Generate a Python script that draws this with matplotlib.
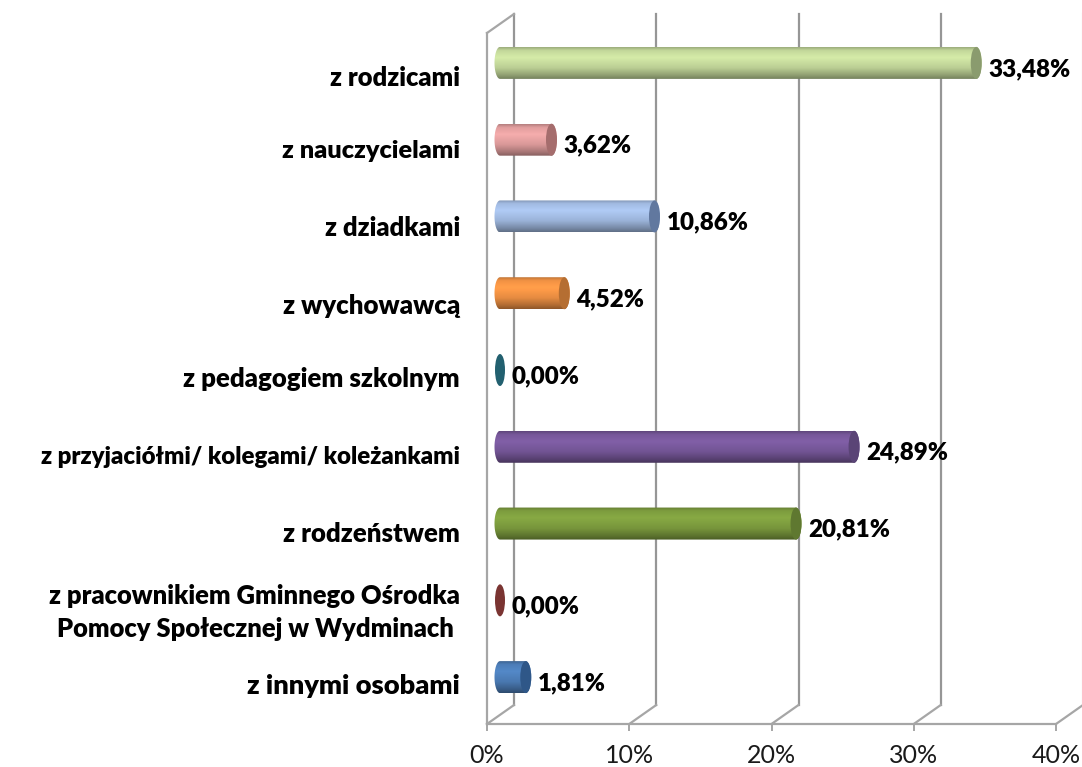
"""
plot.py

Horizontal 3D-look cylinder bar chart, saved as out.png.
"""

import numpy as np
import matplotlib
matplotlib.use('Agg')
import matplotlib.pyplot as plt
from matplotlib.colors import to_rgb
from matplotlib.patches import Ellipse, PathPatch
from matplotlib.path import Path
from matplotlib.transforms import Affine2D, blended_transform_factory

# Data, top to bottom as in the chart
categories = [
    'z rodzicami',
    'z nauczycielami',
    'z dziadkami',
    'z wychowawcą',
    'z pedagogiem szkolnym',
    'z przyjaciółmi/ kolegami/ koleżankami',
    'z rodzeństwem',
    'z pracownikiem Gminnego Ośrodka\nPomocy Społecznej w Wydminach ',
    'z innymi osobami',
]
values = [33.48, 3.62, 10.86, 4.52, 0.00, 24.89, 20.81, 0.00, 1.81]
value_labels = ['33,48%', '3,62%', '10,86%', '4,52%', '0,00%', '24,89%', '20,81%', '0,00%', '1,81%']
x_ticks = [0, 10, 20, 30, 40]
x_tick_labels = ['0%', '10%', '20%', '30%', '40%']

# Styles
bar_colors = ['#c9de9f', '#e8a3a3', '#a6c0e8', '#f79646', '#31859c', '#7a5a9e', '#80a040', '#8c3f3d', '#4f81bd']
cap_colors = ['#8a9b6e', '#a56d6d', '#61789f', '#b56e32', '#22606f', '#5a4476', '#5f7830', '#7a3432', '#2f5788']
label_nudge_px = [7, 3, 3, 4, 0, 2, 2, 4, 0]
label_sizes = [18.4, 18.2, 18.4, 18.6, 18.5, 17.3, 18.5, 18.4, 19.6]
GRID = '#a6a6a6'
WALL = '#969696'
FONT = 'Lato'
WEIGHT = 'heavy'
SIZE = 17.4
TICK_SIZE = 18
PX_X = 569 / 40       # pixels per percent
PX_Y = 691 / 9        # pixels per category
BAR_H = 32 / PX_Y
CAP_W = 11 / PX_X
OFFSET_X = 13 / PX_X  # bars sit half way into the depth of the floor

fig = plt.figure(figsize=(10.82, 7.67), dpi=100, facecolor='white')
ax = fig.add_axes([487 / 1082, 1 - 724 / 767, 569 / 1082, 691 / 767])
ax.patch.set_visible(False)
for side in ['top', 'right']:
    ax.spines[side].set_visible(False)
for side in ['left', 'bottom']:
    ax.spines[side].set_color(GRID)
    ax.spines[side].set_linewidth(1.6)

ax.set_xticks(x_ticks)
ax.set_xticklabels(x_tick_labels, fontsize=TICK_SIZE, family=FONT, color='#1a1a1a')
ax.tick_params(axis='x', color=GRID, width=1.4, length=5, pad=9.5)
ax.set_yticks([])
ax.set_xlim(0, 40)
ax.set_ylim(-0.5, 8.5)

# Back wall: every tick continues into depth, then up
back_tr = ax.transData + Affine2D().translate(27, 19)
for t in x_ticks:
    color = WALL if t < 40 else '#e4e4e4'
    ax.plot([t, t], [-0.5, 8.5], color=color, lw=1.6, transform=back_tr, clip_on=False, zorder=1)
    ax.plot([t, t + 27 / PX_X], [-0.5, -0.5 + 19 / PX_Y], color=GRID, lw=1.6, clip_on=False, zorder=1)
ax.plot([0, 27 / PX_X], [8.5, 8.5 + 19 / PX_Y], color=GRID, lw=1.6, clip_on=False, zorder=1)

# Vertical shading of a cylinder
stops = [0.0, 0.10, 0.32, 0.65, 0.88, 1.0]
shade = [0.78, 0.97, 1.06, 0.93, 0.72, 0.58]


def cylinder(y, v, color, cap):
    left, right = OFFSET_X, OFFSET_X + v
    if v == 0:
        ax.add_patch(Ellipse((left, y), 10 / PX_X, BAR_H, color=cap, zorder=3, lw=0))
        return
    t = np.linspace(np.pi / 2, 3 * np.pi / 2, 30)
    xs = np.r_[left + CAP_W / 2 * np.cos(t), right + CAP_W / 2 * np.cos(t + np.pi)]
    ys = np.r_[y + BAR_H / 2 * np.sin(t), y + BAR_H / 2 * np.sin(t + np.pi)]
    verts = np.column_stack([np.r_[xs, xs[0]], np.r_[ys, ys[0]]])
    grad_pos = np.linspace(0, 1, 64)
    factor = np.interp(grad_pos, stops, shade)
    img = np.clip(np.outer(factor, to_rgb(color)), 0, 1)[:, None, :]
    im = ax.imshow(img, extent=[left - CAP_W, right + CAP_W, y - BAR_H / 2, y + BAR_H / 2],
                   aspect='auto', origin='upper', zorder=3, interpolation='bilinear')
    clip = PathPatch(Path(verts, closed=True), transform=ax.transData, fc='none', ec='none')
    ax.add_patch(clip)
    im.set_clip_path(clip)
    ax.add_patch(Ellipse((right, y), CAP_W, BAR_H, color=cap, zorder=4, lw=0))


n = len(categories)
label_tr = blended_transform_factory(ax.transAxes, ax.transData)
for i, name in enumerate(categories):
    y = n - 1 - i
    bar_y = y + 8.5 / PX_Y
    cylinder(bar_y, values[i], bar_colors[i], cap_colors[i])
    ax.text(OFFSET_X + values[i], bar_y, value_labels[i], fontsize=SIZE, family=FONT, fontweight=WEIGHT,
            color='black', va='center', ha='left', zorder=5,
            transform=ax.transData + Affine2D().translate(12, -6))
    ax.text(0, y, name, fontsize=label_sizes[i], family=FONT, fontweight=WEIGHT, color='black',
            ha='right', va='center', multialignment='right', linespacing=1.45,
            transform=label_tr + Affine2D().translate(-27, -label_nudge_px[i]))

ax.set_xlim(0, 40)
ax.set_ylim(-0.5, 8.5)
fig.savefig('out.png', dpi=100)
